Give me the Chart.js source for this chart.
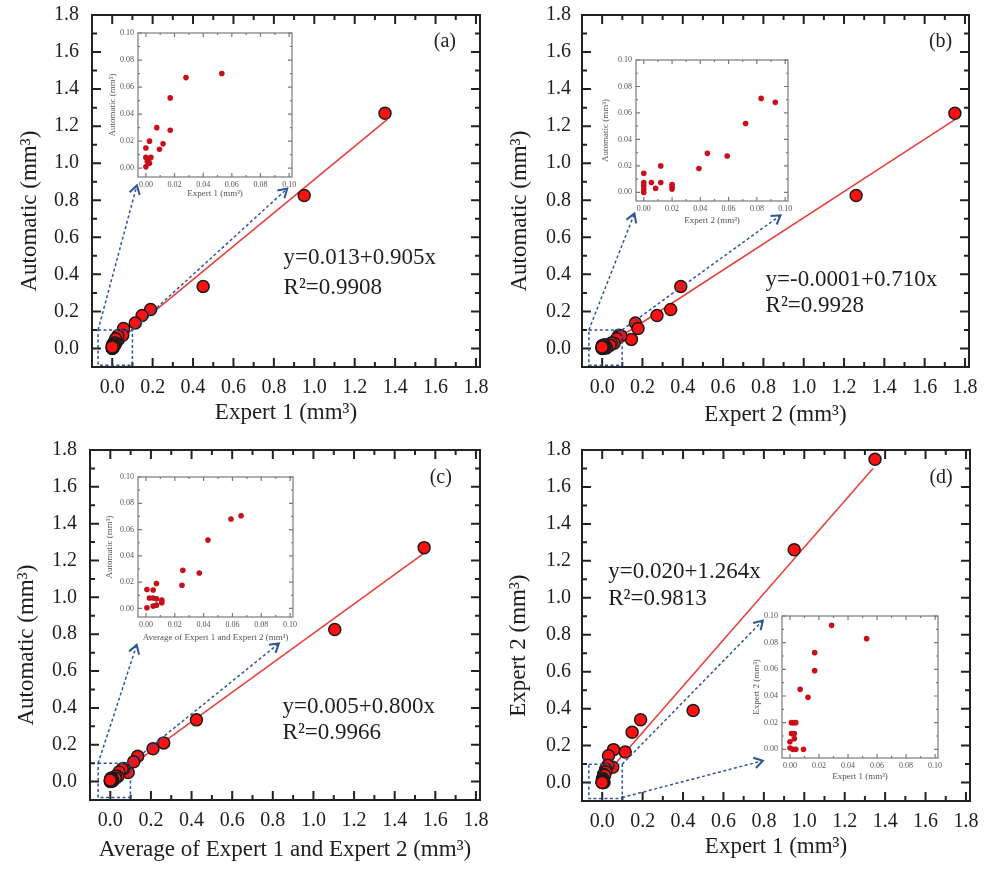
<!DOCTYPE html>
<html lang="en">
<head>
  <meta charset="UTF-8">
  <title>Automatic vs expert volume</title>
  <script src="https://cdn.jsdelivr.net/npm/chart.js"></script>
  <style>
    body { margin: 0; background: #fff; }
    #wrap { position: relative; width: 992px; height: 869px; }
    #wrap canvas { position: absolute; }
  </style>
</head>
<body>
  <div id="wrap">
    <canvas id="mainA" width="496" height="435" style="left:0;top:0"></canvas>
    <canvas id="mainB" width="496" height="435" style="left:496px;top:0"></canvas>
    <canvas id="mainC" width="496" height="434" style="left:0;top:435px"></canvas>
    <canvas id="mainD" width="496" height="434" style="left:496px;top:435px"></canvas>
    <canvas id="insetA" width="197" height="178" style="left:103px;top:25px"></canvas>
    <canvas id="insetB" width="204" height="178" style="left:596px;top:52px"></canvas>
    <canvas id="insetC" width="201" height="178" style="left:100px;top:469px"></canvas>
    <canvas id="insetD" width="198" height="178" style="left:747px;top:608px"></canvas>
  </div>

  <script>
    // volumes (mm3), one entry per lesion
    const expert1   = [1.35, 0.95, 0.45, 0.19, 0.148, 0.114, 0.056, 0.031, 0.052, 0.028, 0.017, 0.017, 0.007, 0.012, 0.002, 0.009, 0.000, 0.003, 0.001, 0.002, 0.002, 0.003, 0.002, 0.000, 0.001, 0.004, 0.000];
    const expert2   = [1.75, 1.26, 0.39, 0.34, 0.272, 0.165, 0.178, 0.145, 0.083, 0.093, 0.072, 0.059, 0.045, 0.039, 0.012, 0.000, 0.001, 0.020, 0.020, 0.020, 0.012, 0.005, 0.008, 0.000, 0.000, 0.000, 0.000];
    const automatic = [1.27, 0.826, 0.335, 0.21, 0.178, 0.138, 0.108, 0.049, 0.071, 0.068, 0.052, 0.028, 0.030, 0.018, 0.020, 0.015, 0.015, 0.007, 0.005, 0.003, 0.008, 0.008, 0.003, 0.000, 0.002, 0.005, 0.008];
    const average12 = [1.545, 1.105, 0.424, 0.263, 0.21, 0.135, 0.115, 0.088, 0.067, 0.059, 0.043, 0.037, 0.026, 0.025, 0.007, 0.005, 0.001, 0.011, 0.011, 0.011, 0.007, 0.005, 0.005, 0.000, 0.001, 0.002, 0.000];

    // zoomed insets (0 - 0.1 mm3)
    const insetAx = [0.053, 0.028, 0.017, 0.017, 0.0076, 0.012, 0.0095, 0.0025, 0.000, 0.000, 0.0035, 0.002, 0.001, 0.0025, 0.000];
    const insetAy = [0.070, 0.067, 0.052, 0.028, 0.030, 0.018, 0.014, 0.020, 0.015, 0.008, 0.008, 0.0067, 0.005, 0.0037, 0.001];
    const insetBx = [0.083, 0.093, 0.072, 0.059, 0.045, 0.039, 0.012, 0.000, 0.012, 0.0054, 0.0084, 0.020, 0.020, 0.020, 0.000, 0.000, 0.000, 0.000];
    const insetBy = [0.071, 0.068, 0.052, 0.0275, 0.0295, 0.018, 0.020, 0.0145, 0.0075, 0.0075, 0.003, 0.006, 0.0045, 0.0025, 0.0075, 0.005, 0.0025, 0.000];
    const insetCx = [0.066, 0.059, 0.043, 0.037, 0.0256, 0.025, 0.0073, 0.0007, 0.005, 0.0024, 0.005, 0.0073, 0.011, 0.011, 0.0073, 0.005, 0.0007];
    const insetCy = [0.0705, 0.068, 0.052, 0.027, 0.029, 0.0176, 0.019, 0.0144, 0.014, 0.008, 0.008, 0.0073, 0.0063, 0.0043, 0.0025, 0.0018, 0.0005];
    const insetDx = [0.0287, 0.0528, 0.017, 0.017, 0.007, 0.0124, 0.0026, 0.001, 0.004, 0.001, 0.003, 0.003, 0.000, 0.000, 0.002, 0.004, 0.0093];
    const insetDy = [0.093, 0.083, 0.0725, 0.059, 0.045, 0.039, 0.020, 0.020, 0.020, 0.0118, 0.0118, 0.008, 0.0057, 0.001, 0.000, 0.000, 0.000];

    // regression line ends
    const fitAx = [0.0, 1.36],  fitAy = [0.013, 1.235];
    const fitBx = [0.0, 1.75],  fitBy = [0.0, 1.235];
    const fitCx = [0.0, 1.545], fitCy = [0.005, 1.24];
    const fitDx = [0.0, 1.34],  fitDy = [0.02, 1.70];

    // ticks
    const mainTicks = [0, 0.2, 0.4, 0.6, 0.8, 1.0, 1.2, 1.4, 1.6, 1.8];
    const mainMinorTicks = [0.1, 0.3, 0.5, 0.7, 0.9, 1.1, 1.3, 1.5, 1.7];
    const insetTicks = [0, 0.02, 0.04, 0.06, 0.08, 0.10];
    const insetMinorTicks = [0.01, 0.03, 0.05, 0.07, 0.09];

    const serif = "'Liberation Serif', 'Times New Roman', serif";
    const pad7 = '       '; // pushes rotated y titles down a bit, like the original

    function toPoints(xs, ys) {
      return xs.map((x, i) => ({ x: x, y: ys[i] }));
    }

    // border + inward ticks on all four sides
    const framePlugin = {
      id: 'frame',
      beforeDatasetsDraw(chart, args, o) {
        const { ctx, chartArea: a } = chart;
        ctx.save();
        if (o.fill) {
          ctx.fillStyle = '#fff';
          ctx.fillRect(a.left, a.top, a.right - a.left, a.bottom - a.top);
        }
        ctx.restore();
      },
      afterDatasetsDraw(chart, args, o) {
        const { ctx, chartArea: a, scales: { x, y } } = chart;
        ctx.save();
        ctx.strokeStyle = o.color;
        ctx.lineWidth = o.width;
        ctx.strokeRect(a.left, a.top, a.right - a.left, a.bottom - a.top);
        ctx.beginPath();
        const mark = (list, len) => list.forEach(v => {
          const px = x.getPixelForValue(v), py = y.getPixelForValue(v);
          ctx.moveTo(px, a.bottom); ctx.lineTo(px, a.bottom - len);
          ctx.moveTo(px, a.top); ctx.lineTo(px, a.top + len);
          ctx.moveTo(a.left, py); ctx.lineTo(a.left + len, py);
          ctx.moveTo(a.right, py); ctx.lineTo(a.right - len, py);
        });
        mark(o.major, o.majorLen);
        mark(o.minor, o.minorLen);
        ctx.stroke();
        ctx.restore();
      }
    };

    // dotted zoom box, arrows, fit equation and panel tag
    const notePlugin = {
      id: 'notes',
      afterDatasetsDraw(chart, args, o) {
        const { ctx, scales: { x, y } } = chart;
        const px = v => x.getPixelForValue(v), py = v => y.getPixelForValue(v);
        ctx.save();
        ctx.strokeStyle = '#2f5597';
        ctx.lineWidth = 1.5;
        ctx.setLineDash([3, 2.5]);
        const b = o.box;
        ctx.strokeRect(px(b[0]), py(b[3]), px(b[1]) - px(b[0]), py(b[2]) - py(b[3]));
        o.arrows.forEach(r => {
          const x0 = px(r[0]), y0 = py(r[1]), x1 = px(r[2]), y1 = py(r[3]);
          ctx.setLineDash([3, 2.5]);
          ctx.lineWidth = 1.5;
          ctx.beginPath(); ctx.moveTo(x0, y0); ctx.lineTo(x1, y1); ctx.stroke();
          const ang = Math.atan2(y1 - y0, x1 - x0);
          ctx.setLineDash([]);
          ctx.lineWidth = 2;
          ctx.beginPath();
          ctx.moveTo(x1 - 10 * Math.cos(ang - 0.55), y1 - 10 * Math.sin(ang - 0.55));
          ctx.lineTo(x1, y1);
          ctx.lineTo(x1 - 10 * Math.cos(ang + 0.55), y1 - 10 * Math.sin(ang + 0.55));
          ctx.stroke();
        });
        ctx.setLineDash([]);
        ctx.fillStyle = '#1e1e1e';
        ctx.textBaseline = 'middle';
        ctx.textAlign = 'left';
        ctx.font = '23px ' + serif;
        o.eq.lines.forEach((t, i) => ctx.fillText(t, px(o.eq.x), py(o.eq.y[i])));
        ctx.textAlign = 'center';
        ctx.font = '20px ' + serif;
        ctx.fillText(o.tag.text, px(o.tag.x), py(o.tag.y));
        ctx.restore();
      }
    };

    function axis(o) {
      return {
        type: 'linear', min: o.min, max: o.max,
        afterBuildTicks: s => { s.ticks = o.ticks.map(v => ({ value: v })); },
        afterFit: s => {
          if (s.isHorizontal()) s.height = o.size; else s.width = o.size;
          // plot box is placed by layout padding only
          s.paddingTop = 0; s.paddingBottom = 0; s.paddingLeft = 0; s.paddingRight = 0;
        },
        grid: { display: false, drawTicks: false },
        border: { display: false },
        ticks: {
          autoSkip: false, maxRotation: 0, padding: o.tickPad, color: o.color,
          font: { family: serif, size: o.tickSize },
          callback: v => v.toFixed(o.digits)
        },
        title: {
          display: true, text: o.title, color: o.color,
          font: { family: serif, size: o.titleSize },
          padding: o.titlePad
        }
      };
    }

    function mainChart(id, xs, ys, fx, fy, xTitle, yTitle, g, notes) {
      new Chart(document.getElementById(id), {
        type: 'scatter',
        data: {
          datasets: [
            { data: toPoints(xs, ys), pointRadius: 6, pointBackgroundColor: '#ff1010',
              pointBorderColor: '#1b1b1b', pointBorderWidth: 1.5 },
            { data: toPoints(fx, fy), showLine: true, pointRadius: 0,
              borderColor: '#e8413c', borderWidth: 1.6 }
          ]
        },
        options: {
          responsive: false, animation: false, events: [],
          layout: { padding: { left: 0, top: g.top, right: g.right, bottom: 0 } },
          plugins: {
            legend: { display: false }, tooltip: { enabled: false },
            frame: { major: mainTicks, minor: mainMinorTicks, majorLen: 9, minorLen: 5, color: '#222', width: 2 },
            notes: notes
          },
          scales: {
            x: axis({ min: -0.1, max: 1.82, ticks: mainTicks, size: g.xH, tickPad: 9, color: '#1e1e1e',
                      tickSize: 20, digits: 1, title: xTitle, titleSize: 23, titlePad: { top: 0, bottom: g.xTitlePad } }),
            y: axis({ min: -0.1, max: 1.8, ticks: mainTicks, size: g.yW, tickPad: g.yTickPad, color: '#1e1e1e',
                      tickSize: 20, digits: 1, title: yTitle + pad7, titleSize: 23, titlePad: { top: g.yTitlePad, bottom: 0 } })
          }
        },
        plugins: [framePlugin, notePlugin]
      });
    }

    function insetChart(id, xs, ys, xTitle, yTitle, g) {
      new Chart(document.getElementById(id), {
        type: 'scatter',
        data: {
          datasets: [
            { data: toPoints(xs, ys), pointRadius: 2.8, pointBackgroundColor: '#c8101a', pointBorderWidth: 0 }
          ]
        },
        options: {
          responsive: false, animation: false, events: [],
          layout: { padding: { left: 0, top: 8, right: g.right, bottom: 0 } },
          plugins: {
            legend: { display: false }, tooltip: { enabled: false },
            frame: { major: insetTicks, minor: insetMinorTicks, majorLen: 4, minorLen: 2, color: '#7a7a7a', width: 1.2, fill: true }
          },
          scales: {
            x: axis({ min: -0.0055, max: 0.102, ticks: insetTicks, size: g.xH, tickPad: 3, color: '#555',
                      tickSize: 8, digits: 2, title: xTitle, titleSize: 9, titlePad: { top: 0, bottom: 4 } }),
            y: axis({ min: -0.0065, max: 0.10, ticks: insetTicks, size: g.yW, tickPad: 4, color: '#555',
                      tickSize: 8, digits: 2, title: yTitle, titleSize: 9, titlePad: { top: 4, bottom: 0 } })
          }
        },
        plugins: [framePlugin]
      });
    }

    mainChart('mainA', expert1, automatic, fitAx, fitAy, 'Expert 1 (mm³)', 'Automatic (mm³)',
      { top: 15, right: 16, xH: 68, yW: 92, yTickPad: 13, yTitlePad: 16, xTitlePad: 8 },
      { box: [-0.07, 0.1, -0.09, 0.1], arrows: [[-0.07, 0.1, 0.122, 0.88], [0.1, 0.1, 0.866, 0.863]],
        eq: { x: 0.848, y: [0.486, 0.324], lines: ['y=0.013+0.905x', 'R²=0.9908'] },
        tag: { x: 1.646, y: 1.654, text: '(a)' } });

    mainChart('mainB', expert2, automatic, fitBx, fitBy, 'Expert 2 (mm³)', 'Automatic (mm³)',
      { top: 15, right: 23, xH: 68, yW: 86, yTickPad: 11, yTitlePad: 10, xTitlePad: 6 },
      { box: [-0.066, 0.099, -0.09, 0.1], arrows: [[-0.066, 0.1, 0.16, 0.728], [0.099, 0.1, 0.885, 0.719]],
        eq: { x: 0.811, y: [0.368, 0.232], lines: ['y=-0.0001+0.710x', 'R²=0.9928'] },
        tag: { x: 1.679, y: 1.654, text: '(b)' } });

    mainChart('mainC', average12, automatic, fitCx, fitCy, 'Average of Expert 1 and Expert 2 (mm³)', 'Automatic (mm³)',
      { top: 15, right: 16, xH: 69, yW: 90, yTickPad: 13, yTitlePad: 13, xTitlePad: 5 },
      { box: [-0.06, 0.099, -0.087, 0.099], arrows: [[-0.06, 0.099, 0.13, 0.742], [0.099, 0.099, 0.83, 0.75]],
        eq: { x: 0.848, y: [0.407, 0.263], lines: ['y=0.005+0.800x', 'R²=0.9966'] },
        tag: { x: 1.627, y: 1.648, text: '(c)' } });

    mainChart('mainD', expert1, expert2, fitDx, fitDy, 'Expert 1 (mm³)', 'Expert 2 (mm³)',
      { top: 15, right: 22, xH: 68, yW: 86, yTickPad: 11, yTitlePad: 9, xTitlePad: 8 },
      { box: [-0.066, 0.099, -0.087, 0.099], arrows: [[0.099, 0.099, 0.795, 0.877], [0.099, -0.081, 0.795, 0.118]],
        eq: { x: 0.03, y: [1.14, 0.995], lines: ['y=0.020+1.264x', 'R²=0.9813'] },
        tag: { x: 1.677, y: 1.648, text: '(d)' } });

    insetChart('insetA', insetAx, insetAy, 'Expert 1 (mm³)', 'Automatic (mm³)', { right: 8, xH: 26, yW: 35 });
    insetChart('insetB', insetBx, insetBy, 'Expert 2 (mm³)', 'Automatic (mm³)', { right: 12, xH: 29, yW: 40 });
    insetChart('insetC', insetCx, insetCy, 'Average of Expert 1 and Expert 2 (mm³)', 'Automatic (mm³)', { right: 8, xH: 30, yW: 38 });
    insetChart('insetD', insetDx, insetDy, 'Expert 1 (mm³)', 'Expert 2 (mm³)', { right: 7, xH: 28, yW: 35 });
  </script>
</body>
</html>
